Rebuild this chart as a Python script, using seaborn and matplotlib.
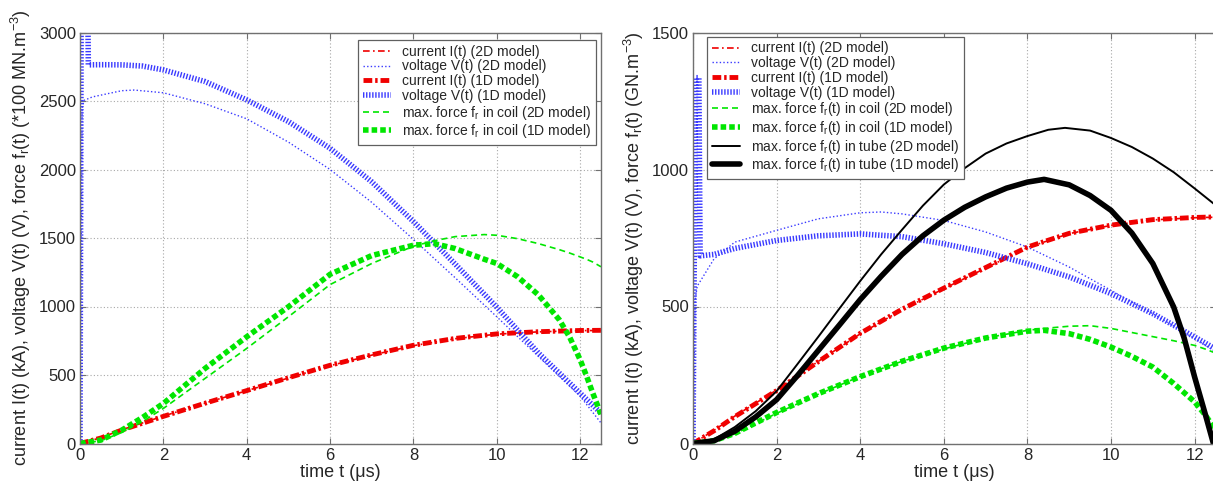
import numpy as np
import pandas as pd
import matplotlib
matplotlib.use("Agg")
import matplotlib.pyplot as plt
import seaborn as sns

# ---------------- data ----------------
# Left panel (force in *100 MN.m^-3)
L_cur_t = [0, 0.5, 1, 2, 3, 4, 5, 6, 7, 8, 9, 10, 11, 12, 12.5]
L_cur_2d = [0, 42, 100, 200, 295, 385, 478, 568, 645, 714, 765, 798, 815, 824, 825]
L_cur_1d = [0, 40, 98, 198, 294, 386, 480, 571, 647, 717, 767, 800, 816, 825, 826]

L_v2d_t = [0, 0.05, 0.1, 0.3, 1, 1.3, 2, 3, 4, 5, 6, 7, 8, 9, 10, 11, 12, 12.5]
L_v2d = [0, 2450, 2505, 2530, 2575, 2580, 2560, 2480, 2370, 2200, 2000, 1760, 1490, 1210, 925, 635, 345, 150]

L_v1d_t = [0, 0.03, 0.18, 0.2, 0.5, 1, 1.5, 2, 3, 4, 5, 6, 7, 8, 9, 10, 11, 12, 12.5]
L_v1d = [0, 3400, 3400, 2764, 2765, 2764, 2755, 2727, 2642, 2508, 2350, 2155, 1910, 1620, 1310, 995, 660, 367, 222]

L_fc_t = [0, 0.5, 1, 1.5, 2, 3, 4, 5, 6, 7, 8, 8.5, 9, 9.7, 10, 10.5, 11, 11.5, 11.75, 12, 12.15, 12.3, 12.5]
L_fc2d = [0, 20, 80, 160, 256, 475, 694, 925, 1160, 1314, 1440, 1480, 1510, 1525, 1520, 1495, 1459, 1415, 1390, 1362, 1345, 1325, 1290]
L_fc1d = [0, 25, 97, 190, 292, 548, 779, 998, 1235, 1372, 1447, 1459, 1423, 1345, 1314, 1217, 1084, 903, 775, 611, 495, 370, 213]

# Right panel (force in GN.m^-3)
R_cur_t = [0, 0.5, 1, 2, 3, 4, 5, 6, 7, 8, 9, 10, 11, 12, 12.5]
R_cur_2d = [0, 48, 100, 195, 300, 400, 488, 565, 640, 715, 766, 796, 816, 824, 826]
R_cur_1d = [0, 46, 98, 193, 299, 402, 490, 567, 642, 717, 767, 797, 817, 825, 827]

R_v2d_t = [0, 0.05, 0.1, 0.5, 1, 2, 3, 4, 4.5, 5, 6, 7, 8, 9, 10, 11, 12, 12.5]
R_v2d = [0, 520, 574, 673, 735, 778, 820, 842, 845, 838, 814, 772, 717, 644, 559, 474, 383, 335]

R_v1d_t = [0, 0.06, 0.14, 0.17, 0.5, 1, 2, 3, 4, 5, 6, 7, 8, 9, 10, 11, 12, 12.5]
R_v1d = [0, 1335, 1335, 685, 690, 712, 741, 758, 765, 755, 729, 697, 656, 608, 547, 474, 389, 345]

R_fc_t = [0, 0.5, 1, 2, 3, 4, 5, 6, 7, 8, 8.4, 9, 9.5, 10, 10.5, 11, 11.5, 12, 12.25, 12.5]
R_fc2d = [0, 10, 35, 110, 180, 245, 300, 345, 385, 413, 420, 428, 430, 420, 405, 390, 375, 358, 345, 330]
R_fc1d = [0, 10, 37, 113, 182, 244, 300, 348, 385, 410, 413, 401, 380, 352, 318, 279, 219, 152, 105, 50]

R_ft2d_t = [0, 0.5, 1, 1.5, 2, 2.5, 3, 3.5, 4, 4.5, 5, 5.5, 6, 6.5, 7, 7.5, 8, 8.5, 8.9, 9.5, 10, 10.5, 11, 11.5, 12, 12.5]
R_ft2d = [0, 15, 60, 118, 191, 290, 390, 492, 593, 690, 780, 868, 945, 1005, 1058, 1095, 1122, 1145, 1152, 1142, 1115, 1082, 1040, 990, 931, 870]
R_ft1d_t = [0, 0.5, 1, 1.5, 2, 2.5, 3, 3.5, 4, 4.5, 5, 5.5, 6, 6.5, 7, 7.5, 8, 8.4, 9, 9.5, 10, 10.5, 11, 11.5, 11.75, 12, 12.25, 12.45, 12.5]
R_ft1d = [0, 10, 45, 97, 160, 248, 340, 432, 525, 610, 690, 758, 815, 862, 900, 932, 954, 964, 944, 905, 851, 768, 657, 498, 385, 243, 110, 0, -40]

x_ticks = [0, 2, 4, 6, 8, 10, 12]
L_yticks = [0, 500, 1000, 1500, 2000, 2500, 3000]
R_yticks = [0, 500, 1000, 1500]

# ---------------- style ----------------
sns.set_style("ticks")
plt.rcParams['font.family'] = ['Liberation Sans', 'DejaVu Sans']
plt.rcParams['mathtext.fontset'] = 'custom'
plt.rcParams['mathtext.rm'] = 'Liberation Sans'
plt.rcParams['mathtext.it'] = 'Liberation Sans:italic'

RED = '#f00000'
BLUE = '#3a3aff'
GREEN = '#00e600'
BLACK = '#000000'

styles = {
    'cur2d': dict(color=RED, linewidth=1.2, linestyle=(0, (4, 2, 1, 2))),
    'v2d': dict(color=BLUE, linewidth=1.0, linestyle=(0, (1, 1.6))),
    'cur1d': dict(color=RED, linewidth=3.5, linestyle=(0, (1.8, 0.6, 0.5, 0.6))),
    'v1d': dict(color=BLUE, linewidth=4.0, linestyle=(0, (0.25, 0.3))),
    'fc2d': dict(color=GREEN, linewidth=1.2, linestyle=(0, (3.6, 2.4))),
    'fc1d': dict(color=GREEN, linewidth=4.0, linestyle=(0, (1.0, 0.55))),
    'ft2d': dict(color=BLACK, linewidth=1.4, linestyle='-'),
    'ft1d': dict(color=BLACK, linewidth=4.0, linestyle='-'),
}

fig = plt.figure(figsize=(12.13, 4.87), dpi=100)
axL = fig.add_axes([80 / 1213, 43.5 / 487, 521 / 1213, 411 / 487])
axR = fig.add_axes([693 / 1213, 43.5 / 487, 522.5 / 1213, 411 / 487])


def draw(ax, t, v, key, label):
    df = pd.DataFrame({'t': t, 'v': v})
    sns.lineplot(data=df, x='t', y='v', ax=ax, estimator=None, sort=False,
                 label=label, **styles[key])


sub = r'$_\mathregular{r}$'

draw(axL, L_cur_t, L_cur_2d, 'cur2d', 'current I(t) (2D model)')
draw(axL, L_v2d_t, L_v2d, 'v2d', 'voltage V(t) (2D model)')
draw(axL, L_cur_t, L_cur_1d, 'cur1d', 'current I(t) (1D model)')
draw(axL, L_v1d_t, L_v1d, 'v1d', 'voltage V(t) (1D model)')
draw(axL, L_fc_t, L_fc2d, 'fc2d', 'max. force f' + sub + ' in coil (2D model)')
draw(axL, L_fc_t, L_fc1d, 'fc1d', 'max. force f' + sub + ' in coil (1D model)')

draw(axR, R_cur_t, R_cur_2d, 'cur2d', 'current I(t) (2D model)')
draw(axR, R_v2d_t, R_v2d, 'v2d', 'voltage V(t) (2D model)')
draw(axR, R_cur_t, R_cur_1d, 'cur1d', 'current I(t) (1D model)')
draw(axR, R_v1d_t, R_v1d, 'v1d', 'voltage V(t) (1D model)')
draw(axR, R_fc_t, R_fc2d, 'fc2d', 'max. force f' + sub + '(t) in coil (2D model)')
draw(axR, R_fc_t, R_fc1d, 'fc1d', 'max. force f' + sub + '(t) in coil (1D model)')
draw(axR, R_ft2d_t, R_ft2d, 'ft2d', 'max. force f' + sub + '(t) in tube (2D model)')
draw(axR, R_ft1d_t, R_ft1d, 'ft1d', 'max. force f' + sub + '(t) in tube (1D model)')

for ax, yt, ylab in [
    (axL, L_yticks, 'current I(t) (kA), voltage V(t) (V), force f' + sub + r'(t) (*100 MN.m$^\mathregular{-3}$)'),
    (axR, R_yticks, 'current I(t) (kA), voltage V(t) (V), force f' + sub + r'(t) (GN.m$^\mathregular{-3}$)'),
]:
    ax.set_xlim(0, 12.5)
    ax.set_ylim(yt[0], yt[-1])
    ax.set_xticks(x_ticks)
    ax.set_yticks(yt)
    ax.set_xticklabels([str(v) for v in x_ticks])
    ax.set_yticklabels([str(v) for v in yt])
    ax.grid(True, linestyle=(0, (1, 2)), color='#a8a8a8', linewidth=0.8)
    ax.set_axisbelow(True)
    for s in ax.spines.values():
        s.set_visible(True)
        s.set_color('#707070')
        s.set_linewidth(1.0)
    ax.tick_params(direction='in', top=True, right=True, length=4, width=0.8,
                   color='#707070', labelsize=12, pad=3)
    ax.set_xlabel('time t (μs)', fontsize=13, labelpad=1)
    ax.set_ylabel(ylab, fontsize=13, labelpad=4)

legkw = dict(fontsize=10, frameon=True, fancybox=False, framealpha=1,
             edgecolor='#606060', handlelength=2.0, handletextpad=0.8,
             labelspacing=0.05, borderpad=0.35, borderaxespad=0)
legL = axL.legend(loc='upper right', bbox_to_anchor=(0.99, 0.982), **legkw)
legR = axR.legend(loc='upper left', bbox_to_anchor=(0.027, 0.99), **legkw)
for leg in (legL, legR):
    leg.get_frame().set_linewidth(0.9)

fig.savefig('out.png', dpi=100)
